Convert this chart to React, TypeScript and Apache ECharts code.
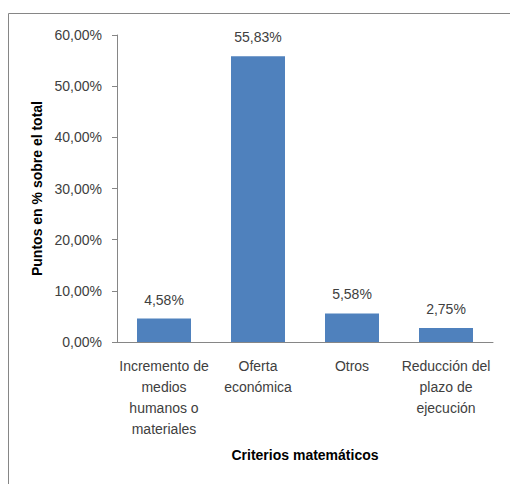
import React, { useEffect, useRef } from "react";
import * as echarts from "echarts";

const categories = [
  "Incremento de\nmedios\nhumanos o\nmateriales",
  "Oferta\neconómica",
  "Otros",
  "Reducción del\nplazo de\nejecución",
];
const values = [4.58, 55.83, 5.58, 2.75];
const yAxisTitle = "Puntos en % sobre el total";
const xAxisTitle = "Criterios matemáticos";

const fmt = (v: number) => v.toFixed(2).replace(".", ",") + "%";

export default function App() {
  const ref = useRef<HTMLDivElement>(null);
  useEffect(() => {
    if (!ref.current) return;
    const chart = echarts.init(ref.current, null, { renderer: "svg" });
    const font = "'Liberation Sans', Arial, sans-serif";
    chart.setOption({
      animation: false,
      textStyle: { fontFamily: font },
      graphic: [
        {
          type: "rect",
          shape: { x: 8.5, y: 13.5, width: 700, height: 700 },
          style: { fill: "none", stroke: "#868686", lineWidth: 1 },
          silent: true,
        },
      ],
      grid: { left: 117, right: 17, top: 35, bottom: 142 },
      xAxis: {
        type: "category",
        data: categories,
        name: xAxisTitle,
        nameLocation: "middle",
        nameGap: 106,
        nameTextStyle: { fontFamily: font, fontSize: 14, fontWeight: "bold", color: "#000", verticalAlign: "top" },
        axisLine: { show: true, lineStyle: { color: "#868686" } },
        axisTick: { show: false },
        axisLabel: {
          interval: 0,
          margin: 13,
          fontFamily: font,
          fontSize: 14,
          color: "#404040",
          lineHeight: 21,
          align: "center",
        },
      },
      yAxis: {
        type: "value",
        min: 0,
        max: 60,
        interval: 10,
        name: yAxisTitle,
        nameLocation: "middle",
        nameGap: 61,
        nameTextStyle: { fontFamily: font, fontSize: 14, fontWeight: "bold", color: "#000" },
        axisLine: { show: true, lineStyle: { color: "#868686" } },
        axisTick: { show: true, length: 5, lineStyle: { color: "#868686" } },
        splitLine: { show: false },
        axisLabel: {
          margin: 15,
          fontFamily: font,
          fontSize: 14,
          color: "#404040",
          formatter: (v: number) => fmt(v),
        },
      },
      series: [
        {
          type: "bar",
          data: values,
          barWidth: 54,
          itemStyle: { color: "#4F81BD" },
          label: {
            show: true,
            position: "top",
            distance: 12,
            fontFamily: font,
            fontSize: 14,
            color: "#404040",
            formatter: (p: any) => fmt(p.value),
          },
        },
      ],
    });
    return () => chart.dispose();
  }, []);
  return (
    <div
      ref={ref}
      style={{ position: "fixed", left: 0, top: 0, width: 510, height: 484, background: "#fff" }}
    />
  );
}
